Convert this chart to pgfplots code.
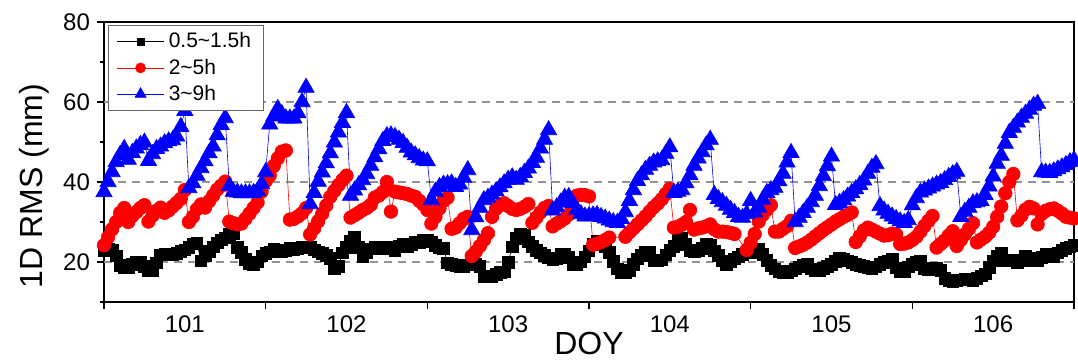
\documentclass[border=0pt]{standalone}
\usepackage{fontspec}
\setmainfont{Liberation Sans}
\usepackage{pgfplots}
\usepackage{pgfplotstable}
\pgfplotsset{compat=1.18}

\pgfplotstableread[row sep=\\]{
x y\\
101.000 23.0\\ 101.025 23.3\\ 101.050 22.9\\ 101.075 21.6\\ 101.100 19.2\\ 101.125 18.7\\ 101.150 18.6\\ 101.175 19.5\\ 101.200 19.9\\ 101.225 20.0\\
101.250 18.9\\ 101.275 18.0\\ 101.300 18.0\\ 101.325 19.8\\ 101.350 21.8\\ 101.375 22.0\\ 101.400 22.1\\ 101.425 21.8\\ 101.450 22.2\\ 101.475 22.7\\
101.500 23.1\\ 101.525 23.7\\ 101.550 24.6\\ 101.575 24.7\\ 101.600 20.3\\ 101.625 21.6\\ 101.650 22.7\\ 101.675 23.8\\ 101.700 24.8\\ 101.725 25.6\\
101.750 26.1\\ 101.775 26.9\\ 101.800 27.2\\ 101.825 23.7\\ 101.850 22.4\\ 101.875 20.7\\ 101.900 19.7\\ 101.925 19.3\\ 101.950 20.1\\ 101.975 21.6\\
102.000 22.2\\ 102.025 22.6\\ 102.050 23.2\\ 102.075 23.1\\ 102.100 22.6\\ 102.125 23.0\\ 102.150 23.4\\ 102.175 23.1\\ 102.200 23.3\\ 102.225 23.8\\
102.250 23.8\\ 102.275 23.7\\ 102.300 23.1\\ 102.325 22.6\\ 102.350 22.2\\ 102.375 21.7\\ 102.400 20.9\\ 102.425 18.3\\ 102.450 18.9\\ 102.475 22.3\\
102.500 23.7\\ 102.525 25.2\\ 102.550 26.2\\ 102.575 23.7\\ 102.600 21.5\\ 102.625 22.4\\ 102.650 23.3\\ 102.675 23.8\\ 102.700 23.6\\ 102.725 23.5\\
102.750 23.7\\ 102.775 23.4\\ 102.800 23.0\\ 102.825 23.9\\ 102.850 24.6\\ 102.875 24.0\\ 102.900 24.4\\ 102.925 25.1\\ 102.950 24.9\\ 102.975 25.4\\
103.000 25.6\\ 103.025 25.1\\ 103.050 24.2\\ 103.075 23.6\\ 103.100 23.4\\ 103.125 19.8\\ 103.150 19.4\\ 103.175 19.2\\ 103.200 18.9\\ 103.225 19.0\\
103.250 19.3\\ 103.275 19.5\\ 103.300 19.5\\ 103.325 18.9\\ 103.350 16.4\\ 103.375 16.3\\ 103.400 16.4\\ 103.425 17.0\\ 103.450 17.4\\ 103.475 17.6\\
103.500 19.9\\ 103.525 23.8\\ 103.550 25.9\\ 103.575 27.1\\ 103.600 26.8\\ 103.625 25.1\\ 103.650 23.9\\ 103.675 22.9\\ 103.700 22.3\\ 103.725 21.7\\
103.750 21.1\\ 103.775 20.7\\ 103.800 21.0\\ 103.825 21.9\\ 103.850 22.0\\ 103.875 21.2\\ 103.900 19.5\\ 103.925 19.3\\ 103.950 20.1\\ 103.975 21.3\\
104.000 22.8\\ 104.025 24.5\\ 104.050 25.3\\ 104.075 24.8\\ 104.100 23.8\\ 104.125 22.5\\ 104.150 20.2\\ 104.175 18.3\\ 104.200 17.4\\ 104.225 17.4\\
104.250 18.0\\ 104.275 19.5\\ 104.300 20.8\\ 104.325 21.7\\ 104.350 22.4\\ 104.375 22.6\\ 104.400 20.5\\ 104.425 20.3\\ 104.450 20.6\\ 104.475 21.8\\
104.500 22.9\\ 104.525 24.0\\ 104.550 25.5\\ 104.575 26.1\\ 104.600 24.5\\ 104.625 22.9\\ 104.650 22.6\\ 104.675 22.9\\ 104.700 23.4\\ 104.725 24.6\\
104.750 24.2\\ 104.775 22.8\\ 104.800 21.7\\ 104.825 20.3\\ 104.850 19.5\\ 104.875 20.2\\ 104.900 20.8\\ 104.925 21.3\\ 104.950 21.9\\ 104.975 22.4\\
105.000 22.6\\ 105.025 22.5\\ 105.050 23.3\\ 105.075 21.9\\ 105.100 20.4\\ 105.125 19.2\\ 105.150 18.3\\ 105.175 17.7\\ 105.200 17.4\\ 105.225 17.5\\
105.250 17.8\\ 105.275 18.3\\ 105.300 18.8\\ 105.325 19.3\\ 105.350 19.5\\ 105.375 18.3\\ 105.400 17.8\\ 105.425 18.0\\ 105.450 18.5\\ 105.475 19.0\\
105.500 19.5\\ 105.525 20.2\\ 105.550 20.9\\ 105.575 20.7\\ 105.600 20.3\\ 105.625 19.9\\ 105.650 19.5\\ 105.675 19.2\\ 105.700 19.0\\ 105.725 18.7\\
105.750 18.5\\ 105.775 18.8\\ 105.800 19.4\\ 105.825 19.9\\ 105.850 20.3\\ 105.875 20.8\\ 105.900 18.6\\ 105.925 17.6\\ 105.950 17.7\\ 105.975 18.8\\
106.000 19.5\\ 106.025 20.0\\ 106.050 20.3\\ 106.075 18.5\\ 106.100 18.1\\ 106.125 18.4\\ 106.150 18.4\\ 106.175 18.0\\ 106.200 15.9\\ 106.225 15.5\\
106.250 15.1\\ 106.275 15.3\\ 106.300 15.6\\ 106.325 15.8\\ 106.350 15.7\\ 106.375 15.5\\ 106.400 15.9\\ 106.425 16.6\\ 106.450 17.1\\ 106.475 18.7\\
106.500 20.3\\ 106.525 21.5\\ 106.550 22.2\\ 106.575 20.5\\ 106.600 20.3\\ 106.625 20.5\\ 106.650 19.9\\ 106.675 20.4\\ 106.700 21.5\\ 106.725 21.1\\
106.750 20.5\\ 106.775 20.5\\ 106.800 21.2\\ 106.825 22.1\\ 106.850 21.8\\ 106.875 21.3\\ 106.900 22.3\\ 106.925 22.9\\ 106.950 23.4\\ 106.975 23.8\\
107.000 24.2\\
}\blackdata

\pgfplotstableread[row sep=\\]{
x y\\
101.000 24.2\\ 101.025 26.2\\ 101.050 28.2\\ 101.075 30.0\\ 101.100 32.3\\ 101.125 33.5\\ 101.150 30.0\\ 101.175 31.5\\ 101.200 32.5\\ 101.225 33.5\\
101.250 34.2\\ 101.275 30.1\\ 101.300 31.6\\ 101.325 32.8\\ 101.350 33.6\\ 101.375 32.3\\ 101.400 32.9\\ 101.425 33.9\\ 101.450 34.8\\ 101.475 35.8\\
101.500 38.0\\ 101.525 30.0\\ 101.550 31.3\\ 101.575 33.2\\ 101.600 34.4\\ 101.625 33.6\\ 101.650 35.2\\ 101.675 36.6\\ 101.700 38.1\\ 101.725 39.1\\
101.750 40.1\\ 101.775 30.1\\ 101.800 29.7\\ 101.825 29.4\\ 101.850 29.6\\ 101.875 30.8\\ 101.900 32.1\\ 101.925 33.5\\ 101.950 34.9\\ 101.975 37.6\\
102.000 40.2\\ 102.025 41.6\\ 102.050 44.0\\ 102.075 45.9\\ 102.100 47.6\\ 102.125 47.9\\ 102.150 30.6\\ 102.175 30.8\\ 102.200 31.4\\ 102.225 32.2\\
102.250 33.5\\ 102.275 26.9\\ 102.300 28.4\\ 102.325 30.2\\ 102.350 32.1\\ 102.375 34.1\\ 102.400 36.3\\ 102.425 37.8\\ 102.450 39.2\\ 102.475 40.5\\
102.500 41.6\\ 102.525 31.1\\ 102.550 31.7\\ 102.575 32.3\\ 102.600 33.0\\ 102.625 33.5\\ 102.650 34.3\\ 102.675 36.1\\ 102.700 36.6\\ 102.725 37.5\\
102.750 40.0\\ 102.775 32.6\\ 102.800 37.6\\ 102.825 37.4\\ 102.850 37.2\\ 102.875 37.0\\ 102.900 36.6\\ 102.925 36.3\\ 102.950 35.3\\ 102.975 34.4\\
103.000 33.0\\ 103.025 29.6\\ 103.050 31.3\\ 103.075 33.4\\ 103.100 35.3\\ 103.125 36.1\\ 103.150 28.3\\ 103.175 28.6\\ 103.200 29.7\\ 103.225 30.8\\
103.250 31.3\\ 103.275 21.5\\ 103.300 22.6\\ 103.325 24.0\\ 103.350 25.5\\ 103.375 27.2\\ 103.400 31.3\\ 103.425 33.3\\ 103.450 34.2\\ 103.475 34.7\\
103.500 34.0\\ 103.525 33.3\\ 103.550 33.0\\ 103.575 33.3\\ 103.600 33.8\\ 103.625 34.5\\ 103.650 29.8\\ 103.675 31.1\\ 103.700 32.4\\ 103.725 33.5\\
103.750 34.0\\ 103.775 28.9\\ 103.800 29.6\\ 103.825 30.2\\ 103.850 30.9\\ 103.875 31.9\\ 103.900 33.4\\ 103.925 36.6\\ 103.950 36.8\\ 103.975 36.7\\
104.000 36.4\\ 104.025 24.3\\ 104.050 24.6\\ 104.075 25.0\\ 104.100 25.5\\ 104.125 26.1\\ 104.225 26.3\\
104.250 27.4\\ 104.275 28.4\\ 104.300 29.4\\ 104.325 30.4\\ 104.350 31.4\\ 104.375 32.6\\ 104.400 33.7\\ 104.425 34.6\\ 104.450 35.7\\ 104.475 37.0\\
104.500 38.3\\ 104.525 28.6\\ 104.550 28.8\\ 104.575 29.3\\ 104.600 30.0\\ 104.625 33.0\\ 104.650 28.1\\ 104.675 28.4\\ 104.700 28.6\\ 104.725 28.9\\
104.750 29.4\\ 104.775 28.2\\ 104.800 27.6\\ 104.825 27.6\\ 104.850 27.5\\ 104.875 27.3\\ 104.900 27.0\\ 104.975 23.0\\
105.000 24.8\\ 105.025 27.0\\ 105.050 30.1\\ 105.075 31.8\\ 105.100 33.1\\ 105.125 34.2\\ 105.150 27.6\\ 105.175 27.6\\ 105.200 28.3\\ 105.225 29.0\\
105.250 30.3\\ 105.275 23.5\\ 105.300 23.9\\ 105.325 24.3\\ 105.350 24.9\\ 105.375 25.6\\ 105.400 26.4\\ 105.425 27.2\\ 105.450 28.0\\ 105.475 28.7\\
105.500 29.4\\ 105.525 30.1\\ 105.550 30.7\\ 105.575 31.3\\ 105.600 31.8\\ 105.625 32.4\\ 105.650 25.0\\ 105.675 26.4\\ 105.700 27.9\\ 105.725 28.6\\
105.750 28.1\\ 105.775 27.6\\ 105.800 27.1\\ 105.825 26.6\\ 105.850 26.7\\ 105.875 27.1\\ 105.900 26.9\\ 105.925 24.5\\ 105.950 24.6\\ 105.975 24.9\\
106.000 25.5\\ 106.025 26.3\\ 106.050 27.6\\ 106.075 29.0\\ 106.100 30.3\\ 106.125 31.5\\ 106.150 23.6\\ 106.175 24.5\\ 106.200 25.4\\ 106.225 26.6\\
106.250 27.7\\ 106.275 24.0\\ 106.300 25.5\\ 106.325 26.9\\ 106.350 28.3\\ 106.375 29.7\\ 106.400 24.9\\ 106.425 25.6\\ 106.450 26.3\\ 106.475 27.3\\
106.500 28.8\\ 106.525 31.3\\ 106.550 33.9\\ 106.575 37.2\\ 106.600 40.0\\ 106.625 42.0\\ 106.650 30.4\\ 106.675 31.6\\ 106.700 33.1\\ 106.725 33.8\\
106.750 33.4\\ 106.775 29.4\\ 106.800 32.0\\ 106.825 32.8\\ 106.850 33.2\\ 106.875 33.4\\ 106.900 32.8\\ 106.925 32.1\\ 106.950 31.3\\ 106.975 31.1\\
107.000 30.9\\
}\reddata

\pgfplotstableread[row sep=\\]{
x y\\
101.000 37.5\\ 101.025 40.0\\ 101.050 42.5\\ 101.075 45.0\\ 101.100 46.8\\ 101.125 48.3\\ 101.150 45.6\\ 101.175 47.3\\ 101.200 48.4\\ 101.225 49.3\\
101.250 49.9\\ 101.275 45.3\\ 101.300 47.0\\ 101.325 48.3\\ 101.350 48.9\\ 101.375 49.7\\ 101.400 50.2\\ 101.425 50.5\\ 101.450 51.4\\ 101.475 53.8\\
101.500 57.8\\ 101.525 38.5\\ 101.550 39.7\\ 101.575 41.6\\ 101.600 43.5\\ 101.625 45.2\\ 101.650 47.2\\ 101.675 48.9\\ 101.700 51.7\\ 101.725 54.3\\
101.750 56.0\\ 101.775 39.0\\ 101.800 37.6\\ 101.825 37.4\\ 101.850 37.2\\ 101.875 37.2\\ 101.900 37.2\\ 101.925 37.3\\ 101.950 37.8\\ 101.975 39.5\\
102.000 42.5\\ 102.025 54.4\\ 102.050 56.4\\ 102.075 58.3\\ 102.100 57.0\\ 102.125 55.9\\ 102.150 55.9\\ 102.175 55.9\\ 102.200 57.2\\ 102.225 60.0\\
102.250 63.6\\ 102.275 34.5\\ 102.300 37.3\\ 102.325 40.1\\ 102.350 42.4\\ 102.375 44.7\\ 102.400 47.2\\ 102.425 49.9\\ 102.450 52.4\\ 102.475 54.8\\
102.500 57.3\\ 102.525 36.6\\ 102.550 37.9\\ 102.575 39.2\\ 102.600 40.5\\ 102.625 42.0\\ 102.650 44.1\\ 102.675 46.2\\ 102.700 48.2\\ 102.725 50.3\\
102.750 51.5\\ 102.775 51.7\\ 102.800 51.3\\ 102.825 50.6\\ 102.850 49.8\\ 102.875 48.6\\ 102.900 47.4\\ 102.925 46.7\\ 102.950 46.0\\ 102.975 45.4\\
103.000 45.2\\ 103.025 35.5\\ 103.050 37.6\\ 103.075 38.8\\ 103.100 39.4\\ 103.125 39.5\\ 103.150 39.7\\ 103.175 38.8\\ 103.200 39.4\\ 103.225 41.1\\
103.250 43.0\\ 103.275 28.0\\ 103.300 31.2\\ 103.325 33.6\\ 103.350 35.5\\ 103.375 36.1\\ 103.400 36.9\\ 103.425 37.7\\ 103.450 38.7\\ 103.475 39.7\\
103.500 40.6\\ 103.525 41.2\\ 103.550 40.6\\ 103.575 41.3\\ 103.600 42.3\\ 103.625 43.4\\ 103.650 44.8\\ 103.675 46.1\\ 103.700 48.4\\ 103.725 50.6\\
103.750 53.0\\ 103.775 32.9\\ 103.800 33.7\\ 103.825 34.9\\ 103.850 36.1\\ 103.875 36.3\\ 103.900 34.7\\ 103.925 33.1\\ 103.950 32.0\\ 103.975 31.4\\
104.000 31.5\\ 104.025 31.7\\ 104.050 31.8\\ 104.075 31.3\\ 104.100 30.9\\ 104.125 30.4\\ 104.150 30.0\\ 104.175 29.8\\ 104.200 30.8\\ 104.225 32.5\\
104.250 35.3\\ 104.275 38.0\\ 104.300 40.3\\ 104.325 41.7\\ 104.350 43.1\\ 104.375 44.1\\ 104.400 44.9\\ 104.425 45.2\\ 104.450 45.5\\ 104.475 47.1\\
104.500 48.7\\ 104.525 37.3\\ 104.550 37.6\\ 104.575 38.0\\ 104.600 39.7\\ 104.625 41.7\\ 104.650 44.1\\ 104.675 45.9\\ 104.700 47.5\\ 104.725 49.2\\
104.750 50.6\\ 104.775 36.8\\ 104.800 35.8\\ 104.825 35.0\\ 104.850 34.1\\ 104.875 33.1\\ 104.900 32.3\\ 104.925 31.3\\ 104.950 31.1\\ 104.975 32.0\\
105.000 35.3\\ 105.025 32.4\\ 105.050 33.6\\ 105.075 35.6\\ 105.100 37.3\\ 105.125 38.0\\ 105.150 38.6\\ 105.175 40.2\\ 105.200 42.1\\ 105.225 44.9\\
105.250 47.3\\ 105.275 30.0\\ 105.300 31.1\\ 105.325 32.3\\ 105.350 33.6\\ 105.375 35.0\\ 105.400 36.6\\ 105.425 39.0\\ 105.450 41.5\\ 105.475 44.0\\
105.500 46.4\\ 105.525 34.3\\ 105.550 34.8\\ 105.575 35.5\\ 105.600 36.4\\ 105.625 37.3\\ 105.650 38.2\\ 105.675 39.3\\ 105.700 40.4\\ 105.725 42.1\\
105.750 43.6\\ 105.775 44.5\\ 105.800 34.0\\ 105.825 32.9\\ 105.850 32.1\\ 105.875 31.4\\ 105.900 30.8\\ 105.925 30.2\\ 105.950 29.8\\ 105.975 30.5\\
106.000 34.2\\ 106.025 36.0\\ 106.050 37.4\\ 106.075 37.9\\ 106.100 38.4\\ 106.125 38.9\\ 106.150 39.4\\ 106.175 39.8\\ 106.200 40.5\\ 106.225 41.3\\
106.250 42.0\\ 106.275 42.6\\ 106.300 31.3\\ 106.325 32.6\\ 106.350 33.6\\ 106.375 34.7\\ 106.400 35.0\\ 106.425 35.3\\ 106.450 36.8\\ 106.475 38.9\\
106.500 41.4\\ 106.525 44.6\\ 106.550 46.6\\ 106.575 49.6\\ 106.600 52.3\\ 106.625 53.6\\ 106.650 54.9\\ 106.675 56.1\\ 106.700 57.1\\ 106.725 58.1\\
106.750 59.1\\ 106.775 59.6\\ 106.800 42.5\\ 106.825 42.4\\ 106.850 42.3\\ 106.875 42.7\\ 106.900 43.2\\ 106.925 43.7\\ 106.950 44.3\\ 106.975 45.0\\
107.000 45.5\\
}\bluedata

\begin{document}
\begin{tikzpicture}
\begin{axis}[
  scale only axis, width=485pt, height=140pt,
  xmin=101, xmax=107, ymin=10, ymax=80,
  xtick={101,102,103,104,105,106,107},
  xticklabels={101,102,103,104,105,106},
  x tick label as interval,
  ytick={20,40,60,80}, minor ytick={10,30,50,70},
  tick pos=left, tick align=outside,
  major tick length=3.5pt, minor tick length=2pt,
  every tick/.style={black, line width=0.8pt},
  axis line style={line width=0.8pt},
  extra y ticks={20,40,60}, extra y tick labels={},
  extra y tick style={grid=major, major tick length=0pt},
  grid style={gray!85, line width=0.6pt, dash pattern=on 4pt off 3pt},
  /pgf/number format/assume math mode=true,
  xticklabel style={font=\fontsize{12}{14}\selectfont},
  yticklabel style={font=\fontsize{12}{14}\selectfont},
  xlabel={DOY}, ylabel={1D RMS (mm)},
  xlabel style={font=\fontsize{16}{19}\selectfont, at={(axis description cs:0.5,-0.189)}, anchor=base},
  ylabel style={font=\fontsize{16}{19}\selectfont, at={(axis description cs:-0.0722,0.414)}, anchor=center},
  legend style={at={(axis description cs:0.004,0.989)}, anchor=north west, draw=black!60, line width=0.5pt,
    font=\fontsize{10.5}{12.5}\selectfont, inner xsep=4pt, inner ysep=1.5pt, row sep=0pt},
  legend cell align=left,
  legend image code/.code={\draw[mark repeat=2,mark phase=2] plot coordinates {(0cm,0cm) (0.42cm,0cm) (0.84cm,0cm)};},
]
\addplot[black, line width=0.3pt, mark=square*, mark size=2.9pt, mark options={solid, fill=black},
  legend image post style={mark size=1.8pt}] table {\blackdata};
\addlegendentry{0.5\textasciitilde1.5h}
\addplot[red, line width=0.3pt, mark=*, mark size=3.4pt, mark options={solid, fill=red},
  legend image post style={mark size=2.5pt}] table {\reddata};
\addlegendentry{2\textasciitilde5h}
\addplot[blue, line width=0.3pt, mark=triangle*, mark size=4.7pt, mark options={solid, fill=blue},
  legend image post style={mark size=3.2pt}] table {\bluedata};
\addlegendentry{3\textasciitilde9h}
\end{axis}
\pgfresetboundingbox
\useasboundingbox (-52pt,-29pt) rectangle (487pt,151pt);
\end{tikzpicture}
\end{document}
